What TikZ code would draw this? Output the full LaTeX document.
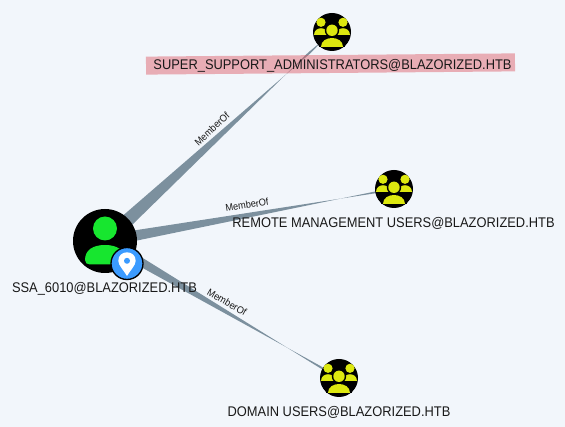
\documentclass[tikz,border=0pt]{standalone}
\usepackage{fontspec}
\setsansfont[FakeStretch=0.92]{Liberation Sans}
\usetikzlibrary{calc, positioning, backgrounds}
\tikzset{every picture/.style={/utils/exec={\sffamily}}}
\definecolor{Page_blue}{HTML}{F2F6FB}
\definecolor{Edge_gray}{HTML}{7C909E}
\definecolor{User_green}{HTML}{17E62F}
\definecolor{Group_yellow}{HTML}{DDE80F}
\definecolor{Badge_blue}{HTML}{3B9BFF}
\definecolor{Mark_red}{HTML}{DC5560}
\tikzset{
  usernode/.style={circle, fill=black, minimum size=48pt, inner sep=0pt},
  groupnode/.style={circle, fill=black, minimum size=28.5pt, inner sep=0pt},
  badgenode/.style={circle, draw=black, line width=1pt, fill=Badge_blue, minimum size=24pt, inner sep=0pt},
  namelabel/.style={font=\fontsize{10.5}{12}\selectfont, text=black!90, inner sep=0pt},
  edgelabel/.style={font=\fontsize{7.5}{8}\selectfont, text=black!90, inner sep=0pt},
  group icon/.pic={
    \fill[Group_yellow] (-11,-9.7) circle (4.6);
    \fill[Group_yellow] (11,-9.7) circle (4.6);
    \fill[Group_yellow] (-18,3.3) .. controls (-18,-5.5) and (-4,-5.5) .. (-4,3.3) -- cycle;
    \fill[Group_yellow] (18,3.3) .. controls (18,-5.5) and (4,-5.5) .. (4,3.3) -- cycle;
    \fill[black] (0,-1.7) circle (7.2);
    \fill[Group_yellow] (0,-1.7) circle (5.7);
    \fill[black] (-13,15) .. controls (-13,2) and (13,2) .. (13,15) -- cycle;
    \fill[Group_yellow] (-11,15) .. controls (-11,2.6) and (11,2.6) .. (11,15) -- cycle;
  },
  user icon/.pic={
    \fill[User_green] (0,-12.5) circle (12);
    \fill[User_green] (-20,19) .. controls (-20,9) and (-12,4) .. (0,4)
      .. controls (12,4) and (20,9) .. (20,19)
      .. controls (20,22) and (18,23.5) .. (15,23.5) -- (-15,23.5)
      .. controls (-18,23.5) and (-20,22) .. (-20,19) -- cycle;
  },
  pin icon/.pic={
    \fill[white] (0,12.5) .. controls (-3,7) and (-8.7,2) .. (-8.7,-2.7)
      .. controls (-8.7,-14) and (8.7,-14) .. (8.7,-2.7)
      .. controls (8.7,2) and (3,7) .. (0,12.5) -- cycle;
    \fill[Badge_blue] (0,-2.7) circle (3);
  }
}
% tapered edge: from, to, half width at the start, where the taper ends
\newcommand{\memberedge}[4]{
  \fill[Edge_gray] ($(#1)!#3!90:(#2)$) -- ($(#1)!#4!(#2)!0.75pt!-90:(#2)$) -- ($(#2)!0.4pt!-90:(#1)$)
    -- ($(#2)!0.4pt!90:(#1)$) -- ($(#1)!#4!(#2)!0.75pt!90:(#2)$) -- ($(#1)!#3!-90:(#2)$) -- cycle;
}
\begin{document}
\begin{tikzpicture}[x=0.75pt, y=-0.75pt]
        \useasboundingbox (0,0) rectangle (565,427);
        % nodes
        \node[usernode] (ssa) at (105,241) {};
        \node[groupnode] (support) at (332,32) {};
        \node[groupnode] (remote) at (394,189) {};
        \node[groupnode] (domain) at (339,378) {};
        \begin{pgfonlayer}{background}
            \fill[Page_blue] (0,0) rectangle (565,427);
            \memberedge{ssa}{support}{5.6pt}{0.9}
            \memberedge{ssa}{remote}{4.5pt}{0.95}
            \memberedge{ssa}{domain}{4.1pt}{0.92}
        \end{pgfonlayer}
        \pic at (ssa) {user icon};
        \pic at (support) {group icon};
        \pic at (remote) {group icon};
        \pic at (domain) {group icon};
        \node[badgenode] (badge) at (127,263.5) {};
        \pic at (badge) {pin icon};
        % labels
        \fill[Mark_red, fill opacity=0.45, rotate around={0.5:(330,64)}] (146,55) rectangle (515,73);
        \node[namelabel] (support_name) at (332.5,65.5) {SUPER\_SUPPORT\_ADMINISTRATORS@BLAZORIZED.HTB};
        \node[namelabel] (remote_name) at (393.5,223) {REMOTE MANAGEMENT USERS@BLAZORIZED.HTB};
        \node[namelabel] (domain_name) at (339,412) {DOMAIN USERS@BLAZORIZED.HTB};
        \node[namelabel] (ssa_name) at (104.5,288.5) {SSA\_6010@BLAZORIZED.HTB};
        \node[edgelabel, rotate=43] (support_edge) at (212,129) {MemberOf};
        \node[edgelabel, rotate=9] (remote_edge) at (247,205) {MemberOf};
        \node[edgelabel, rotate=-30] (domain_edge) at (227,302) {MemberOf};
    \end{tikzpicture}
\end{document}
